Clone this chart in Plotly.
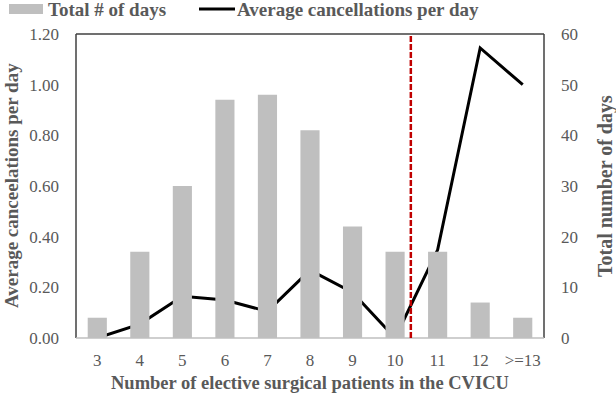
import plotly.graph_objects as go

categories = ["3", "4", "5", "6", "7", "8", "9", "10", "11", "12", ">=13"]
total_days = [4, 17, 30, 47, 48, 41, 22, 17, 17, 7, 4]
avg_cancellations = [0.0, 0.055, 0.165, 0.15, 0.105, 0.268, 0.18, 0.0, 0.348, 1.145, 1.0]
cutoff_position = 7.37  # dashed line between "10" and "11"

font_family = "Liberation Serif, Times New Roman, serif"
grey = "#595959"

# plot area in pixels, used to place legend and titles
L, R, T, B = 76, 72, 34, 60
W, H = 616, 398
pw, ph = W - L - R, H - T - B


def px(x):
    return (x - L) / pw


def py(y):
    return (H - B - y) / ph


fig = go.Figure()

fig.add_trace(go.Bar(
    x=list(range(len(categories))),
    y=total_days,
    name="Total # of days",
    marker=dict(color="#bfbfbf", line=dict(width=0)),
    width=0.45,
    yaxis="y2",
))

fig.add_trace(go.Scatter(
    x=list(range(len(categories))),
    y=avg_cancellations,
    name="Average cancellations per day",
    mode="lines",
    line=dict(color="black", width=3),
    yaxis="y",
))

# plot frame (dark left/top/right edges, light baseline)
frame = "#404040"
fig.add_shape(type="line", xref="paper", yref="paper", x0=0, x1=0, y0=0, y1=1,
              line=dict(color=frame, width=1.5))
fig.add_shape(type="line", xref="paper", yref="paper", x0=0, x1=1, y0=1, y1=1,
              line=dict(color=frame, width=1.5))
fig.add_shape(type="line", xref="paper", yref="paper", x0=1, x1=1, y0=0, y1=1,
              line=dict(color=frame, width=1.5))
fig.add_shape(type="line", xref="paper", yref="paper", x0=0, x1=1, y0=0, y1=0,
              line=dict(color="#bfbfbf", width=1.5))

fig.add_shape(type="line", xref="x", yref="paper", x0=cutoff_position, x1=cutoff_position,
              y0=0, y1=1, line=dict(color="#c00000", width=2.5, dash="6px,2px"))

# legend drawn by hand so the bar key is a wide patch like the original
fig.add_shape(type="rect", xref="paper", yref="paper",
              x0=px(9), x1=px(43), y0=py(14), y1=py(4),
              fillcolor="#bfbfbf", line=dict(width=0))
fig.add_shape(type="line", xref="paper", yref="paper",
              x0=px(199), x1=px(235), y0=py(9), y1=py(9),
              line=dict(color="black", width=3))
legend_font = dict(family=font_family, size=19, color=grey, weight="bold")
fig.add_annotation(text="Total # of days", xref="paper", yref="paper",
                   x=px(46), y=py(10), xanchor="left", yanchor="middle",
                   showarrow=False, font=legend_font)
fig.add_annotation(text="Average cancellations per day", xref="paper", yref="paper",
                   x=px(235), y=py(10), xanchor="left", yanchor="middle",
                   showarrow=False, font=legend_font)

# axis titles
title_font = dict(family=font_family, size=19, color=grey, weight="bold")
fig.add_annotation(text="Number of elective surgical patients in the CVICU",
                   xref="paper", yref="paper", x=0.5, y=py(383),
                   xanchor="center", yanchor="middle", showarrow=False,
                   font=dict(family=font_family, size=18.5, color=grey, weight="bold"))
fig.add_annotation(text="Average canceelations per day",
                   xref="paper", yref="paper", x=px(11), y=0.5, textangle=-90,
                   xanchor="center", yanchor="middle", showarrow=False, font=title_font)
fig.add_annotation(text="Total number of days",
                   xref="paper", yref="paper", x=px(605), y=0.5, textangle=-90,
                   xanchor="center", yanchor="middle", showarrow=False,
                   font=dict(family=font_family, size=20, color=grey, weight="bold"))

tick_font = dict(family=font_family, size=17, color=grey)

fig.update_layout(
    width=W,
    height=H,
    margin=dict(l=L, r=R, t=T, b=B, autoexpand=False),
    plot_bgcolor="white",
    paper_bgcolor="white",
    font=dict(family=font_family, size=17, color=grey),
    showlegend=False,
    xaxis=dict(
        tickmode="array",
        tickvals=list(range(len(categories))),
        ticktext=categories,
        range=[-0.5, len(categories) - 0.5],
        showgrid=False,
        zeroline=False,
        showline=False,
        ticks="",
        tickfont=tick_font,
        ticklabelstandoff=10,
    ),
    yaxis=dict(
        range=[0, 1.2],
        tickvals=[0, 0.2, 0.4, 0.6, 0.8, 1.0, 1.2],
        tickformat=".2f",
        showgrid=False,
        zeroline=False,
        showline=False,
        ticks="",
        tickfont=tick_font,
        ticklabelstandoff=16,
    ),
    yaxis2=dict(
        range=[0, 60],
        tickvals=[0, 10, 20, 30, 40, 50, 60],
        overlaying="y",
        side="right",
        showgrid=False,
        zeroline=False,
        showline=False,
        ticks="",
        tickfont=tick_font,
        ticklabelstandoff=16,
    ),
)

# drop the browser's default 8px body margin so the figure fills the window
fig.write_html("out.html", config={"displayModeBar": False},
               post_script="document.body.style.margin = '0';")
